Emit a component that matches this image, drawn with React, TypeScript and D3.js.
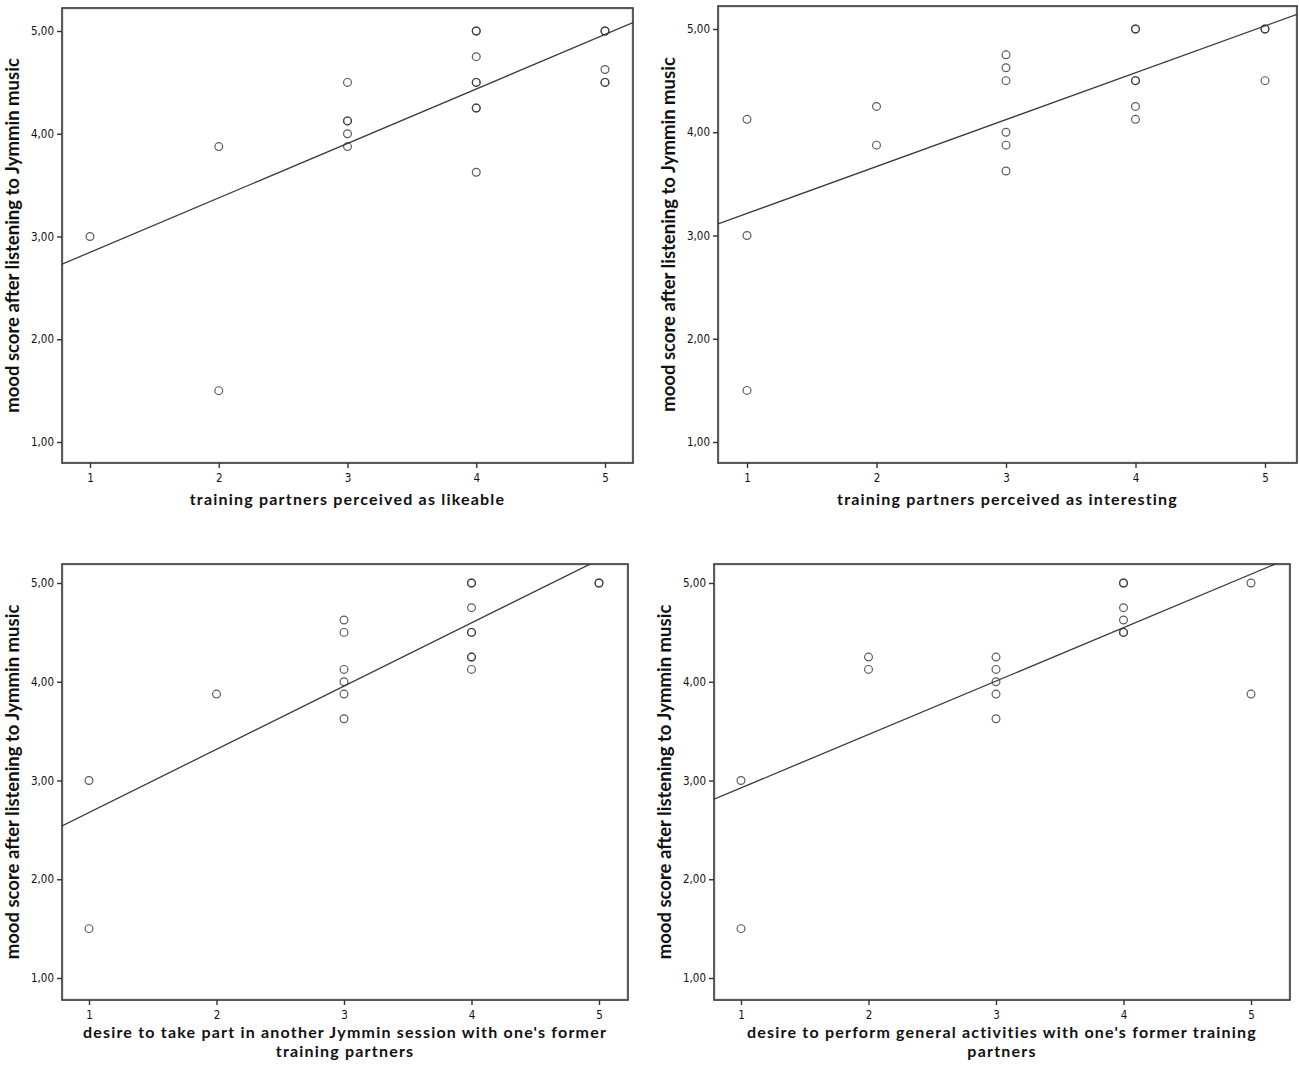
import { useEffect, useRef } from "react";
import * as d3 from "d3";

// shared axis ticks
const xTicks = [1, 2, 3, 4, 5];
const yTicks = [1, 2, 3, 4, 5];
const yTitle = "mood score after listening to Jymmin music";

// panel A: likeable (repeated values = overlapping circles)
const likeableX = [1, 2, 2, 3, 3, 3, 3, 3, 4, 4, 4, 4, 4, 4, 4, 4, 5, 5, 5, 5, 5];
const likeableY = [3.0, 3.875, 1.5, 4.5, 4.125, 4.125, 4.0, 3.875, 5.0, 5.0, 4.75, 4.5, 4.5, 4.25, 4.25, 3.625, 5.0, 5.0, 4.625, 4.5, 4.5];

// panel B: interesting
const interestingX = [1, 1, 1, 2, 2, 3, 3, 3, 3, 3, 3, 4, 4, 4, 4, 4, 4, 5, 5, 5];
const interestingY = [4.125, 3.0, 1.5, 4.25, 3.875, 4.75, 4.625, 4.5, 4.0, 3.875, 3.625, 5.0, 5.0, 4.5, 4.5, 4.25, 4.125, 5.0, 5.0, 4.5];

// panel C: another Jymmin session
const sessionX = [1, 1, 2, 3, 3, 3, 3, 3, 3, 4, 4, 4, 4, 4, 4, 4, 4, 5, 5];
const sessionY = [3.0, 1.5, 3.875, 4.625, 4.5, 4.125, 4.0, 3.875, 3.625, 5.0, 5.0, 4.75, 4.5, 4.5, 4.25, 4.25, 4.125, 5.0, 5.0];

// panel D: general activities
const activitiesX = [1, 1, 2, 2, 3, 3, 3, 3, 3, 4, 4, 4, 4, 4, 4, 5, 5];
const activitiesY = [3.0, 1.5, 4.25, 4.125, 4.25, 4.125, 4.0, 3.875, 3.625, 5.0, 5.0, 4.75, 4.625, 4.5, 4.5, 5.0, 3.875];

// fitted line (intercept, slope)
const fitIntercepts = [2.316, 2.76, 2.036, 2.384];
const fitSlopes = [0.53, 0.454, 0.64, 0.541];

const xTitles = [
  ["training partners perceived as likeable"],
  ["training partners perceived as interesting"],
  ["desire to take part in another Jymmin session with one's former", "training partners"],
  ["desire to perform general activities with one's former training", "partners"],
];

const seriesX = [likeableX, interestingX, sessionX, activitiesX];
const seriesY = [likeableY, interestingY, sessionY, activitiesY];

// layout per panel: frame box, pixel range for ticks 1..5
const layouts = [
  { left: 62, top: 8, right: 633, bottom: 463, x1: 90, x5: 605, y1: 442, y5: 31 },
  { left: 718, top: 6, right: 1297, bottom: 463, x1: 747, x5: 1265, y1: 442, y5: 29 },
  { left: 62, top: 564, right: 628, bottom: 1000, x1: 89, x5: 599, y1: 978, y5: 583 },
  { left: 714, top: 564, right: 1290, bottom: 1000, x1: 741, x5: 1251, y1: 978, y5: 583 },
];

const W = 1300;
const H = 1066;
const fmt = (v: number) => v.toFixed(2).replace(".", ",");
const titleFont = "Lato, 'Open Sans', sans-serif";
const tickFont = "'DejaVu Sans Condensed', 'DejaVu Sans', sans-serif";

export default function App() {
  const ref = useRef<SVGSVGElement>(null);

  useEffect(() => {
    document.body.style.margin = "0";
    if (!ref.current) return;
    const svg = d3.select(ref.current);
    svg.selectAll("*").remove();

    layouts.forEach((L, i) => {
      const x = d3.scaleLinear().domain([1, 5]).range([L.x1, L.x5]);
      const y = d3.scaleLinear().domain([1, 5]).range([L.y1, L.y5]);
      const g = svg.append("g");

      const clipId = `clip-${i}`;
      g.append("clipPath").attr("id", clipId)
        .append("rect")
        .attr("x", L.left).attr("y", L.top)
        .attr("width", L.right - L.left).attr("height", L.bottom - L.top);

      // faint inner border
      g.append("rect")
        .attr("x", L.left + 1.5).attr("y", L.top + 1.5)
        .attr("width", L.right - L.left - 3).attr("height", L.bottom - L.top - 3)
        .attr("fill", "none").attr("stroke", "#e4e4e4").attr("stroke-width", 1);

      // fit line
      const xa = x.invert(L.left);
      const xb = x.invert(L.right);
      const a = fitIntercepts[i];
      const b = fitSlopes[i];
      g.append("line")
        .attr("clip-path", `url(#${clipId})`)
        .attr("x1", x(xa)).attr("y1", y(a + b * xa))
        .attr("x2", x(xb)).attr("y2", y(a + b * xb))
        .attr("stroke", "#3a3a3a").attr("stroke-width", 1.3);

      // points
      g.selectAll("circle.pt")
        .data(seriesX[i].map((v, k) => [v, seriesY[i][k]]))
        .enter()
        .append("circle")
        .attr("class", "pt")
        .attr("cx", (d) => x(d[0]))
        .attr("cy", (d) => y(d[1]))
        .attr("r", 3.9)
        .attr("fill", "none")
        .attr("stroke", "#333")
        .attr("stroke-opacity", 0.8)
        .attr("stroke-width", 1.2);

      // frame
      g.append("rect")
        .attr("x", L.left).attr("y", L.top)
        .attr("width", L.right - L.left).attr("height", L.bottom - L.top)
        .attr("fill", "none").attr("stroke", "#333").attr("stroke-width", 1.6);

      // x axis ticks
      const xAxis = g.append("g").attr("transform", `translate(0,${L.bottom})`)
        .call(d3.axisBottom(x).tickValues(xTicks).tickFormat((d) => String(d)).tickSize(5).tickPadding(6));
      xAxis.select(".domain").remove();
      xAxis.selectAll("line").attr("stroke", "#333").attr("stroke-width", 1.4);
      xAxis.selectAll("text")
        .attr("font-family", tickFont)
        .attr("font-size", 11.5).attr("fill", "#111");

      // y axis ticks
      const yAxis = g.append("g").attr("transform", `translate(${L.left},0)`)
        .call(d3.axisLeft(y).tickValues(yTicks).tickFormat((d) => fmt(+d)).tickSize(5).tickPadding(3));
      yAxis.select(".domain").remove();
      yAxis.selectAll("line").attr("stroke", "#333").attr("stroke-width", 1.4);
      yAxis.selectAll("text")
        .attr("font-family", tickFont)
        .attr("font-size", 11.5).attr("fill", "#111");

      // y title
      const cy = (L.top + L.bottom) / 2;
      g.append("text")
        .attr("transform", `translate(${L.left - 49},${cy}) rotate(-90)`)
        .attr("text-anchor", "middle")
        .attr("dy", "0.35em")
        .attr("font-family", titleFont)
        .attr("font-weight", "bold")
        .attr("font-size", 18.5)
        .attr("fill", "#111")
        .text(yTitle);

      // x title
      const cx = (L.left + L.right) / 2;
      xTitles[i].forEach((line, k) => {
        g.append("text")
          .attr("x", cx)
          .attr("y", L.bottom + (xTitles[i].length > 1 ? 38 : 42) + k * 19)
          .attr("text-anchor", "middle")
          .attr("font-family", titleFont)
          .attr("font-weight", "bold")
          .attr("font-size", 16)
          .attr("letter-spacing", 1.2)
          .attr("fill", "#111")
          .text(line);
      });
    });
  }, []);

  return <svg ref={ref} width={W} height={H} viewBox={`0 0 ${W} ${H}`} style={{ display: "block", background: "#fff" }} />;
}
